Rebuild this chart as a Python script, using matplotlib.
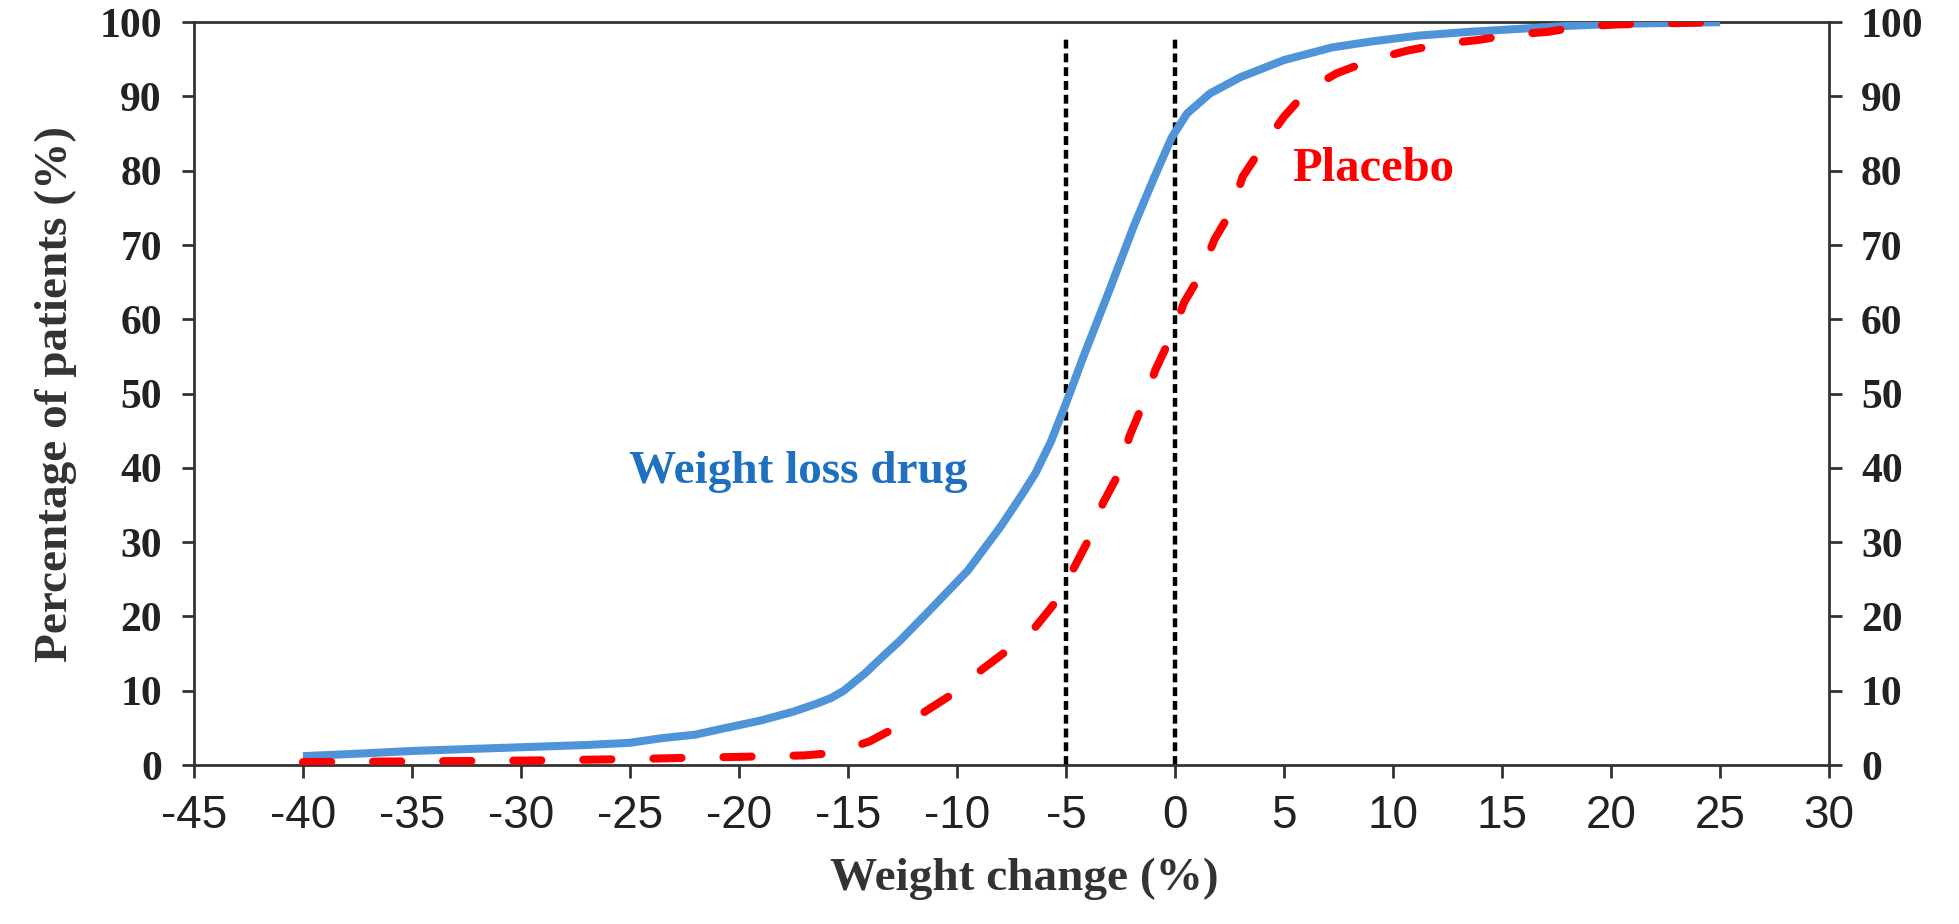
import matplotlib
matplotlib.use("Agg")
import matplotlib.pyplot as plt

# ---- data ----
drug_x = [-40, -37, -35, -32, -30, -27, -25, -23.6, -22, -20.6, -19, -17.5,
          -16.5, -15.8, -15.2, -14.2, -13.7, -12.6, -11.1, -9.5, -8.0, -7.0,
          -6.4, -5.7, -5.0, -4.2, -3.0, -1.9, -1.0, -0.15, 0.55, 1.6, 3.0,
          5.0, 7.2, 9.0, 11.2, 13.5, 15.8, 18.0, 20.4, 23.0, 25.0]
drug_y = [1.2, 1.6, 1.9, 2.2, 2.4, 2.7, 3.0, 3.6, 4.1, 5.0, 6.0, 7.2,
          8.2, 9.0, 10.0, 12.4, 13.8, 16.8, 21.3, 26.2, 32.1, 36.5,
          39.3, 43.5, 48.7, 55.0, 64.0, 72.5, 78.8, 84.5, 87.7, 90.4, 92.6,
          94.9, 96.6, 97.4, 98.2, 98.7, 99.1, 99.5, 99.8, 99.9, 100]

placebo_x = [-40, -35, -30, -25, -22, -20, -17, -16.2, -15, -14, -13.3, -12,
             -10.4, -9.2, -7.8, -6.4, -5.3, -4.7, -3.9, -3.3, -2.5, -2.1, -1.4,
             -0.9, 0, 0.4, 1.2, 1.8, 2.6, 3.1, 4.0, 5.0, 6.1, 7.4, 9.0, 10.7,
             12.3, 13.9, 15.4, 17.1, 18.6, 20.3, 21.8, 25]
placebo_y = [0.4, 0.5, 0.6, 0.8, 1.0, 1.1, 1.3, 1.5, 2.2, 3.2, 4.3, 6.2, 9.2,
             12.1, 15.2, 18.6, 22.6, 26.2, 30.7, 35.3, 39.7, 44.2, 49.1, 53.2,
             58.8, 62.2, 66.2, 70.7, 74.7, 79.2, 83.2, 87.3, 90.9, 93.1, 94.9,
             96.2, 97.1, 97.6, 98.3, 98.7, 99.4, 99.7, 99.8, 100]

cutoffs = [-5, 0]
x_ticks = list(range(-45, 31, 5))
y_ticks = list(range(0, 101, 10))

# ---- figure ----
fig = plt.figure(figsize=(19.59, 9.24), dpi=100)
ax = fig.add_axes([0.099, 0.172, 0.8347, 0.804])

ax.plot(drug_x, drug_y, color="#4F94D8", lw=5.8, solid_capstyle="butt",
        solid_joinstyle="round", zorder=3)
ax.plot(placebo_x, placebo_y, color="#FF0000", lw=5.8, dashes=(3.5, 5.2),
        dash_capstyle="round", dash_joinstyle="round", zorder=4)

for c in cutoffs:
    ax.plot([c, c], [0, 97.8], color="black", lw=3.2, dashes=(2.0, 1.1),
            dash_capstyle="butt", zorder=2)

ax.set_xlim(-45, 30)
ax.set_ylim(0, 100)
ax.set_xticks(x_ticks)
ax.set_yticks(y_ticks)
ax.set_xticklabels([str(t) for t in x_ticks], fontfamily="Liberation Sans",
                   fontsize=33, color="#222222")
ax.set_yticklabels([str(t) for t in y_ticks], fontfamily="Liberation Serif",
                   fontweight="bold", fontsize=30, color="#222222")

for s in ax.spines.values():
    s.set_linewidth(2.0)
    s.set_color("#333333")

ax.tick_params(axis="x", direction="out", length=9, width=2, color="#333333",
               pad=12, top=False)
ax.tick_params(axis="y", direction="out", length=9, width=2, color="#333333",
               left=True, right=True, labelleft=True, labelright=True, pad=14)

ax.set_xlabel("Weight change (%)", fontfamily="Liberation Serif",
              fontweight="bold", fontsize=34, color="#333333", labelpad=10)
ax.xaxis.set_label_coords(0.508, -0.125)
ax.set_ylabel("Percentage of patients (%)", fontfamily="Liberation Serif",
              fontweight="bold", fontsize=34, color="#333333", labelpad=16)

ax.text(-17.3, 39.4, "Weight loss drug", color="#1F70C0",
        fontfamily="Liberation Serif", fontweight="bold", fontsize=34,
        ha="center", va="center")
ax.text(9.1, 80.2, "Placebo", color="#FF0000",
        fontfamily="Liberation Serif", fontweight="bold", fontsize=35,
        ha="center", va="center")

fig.savefig("out.png", dpi=100, facecolor="white")
